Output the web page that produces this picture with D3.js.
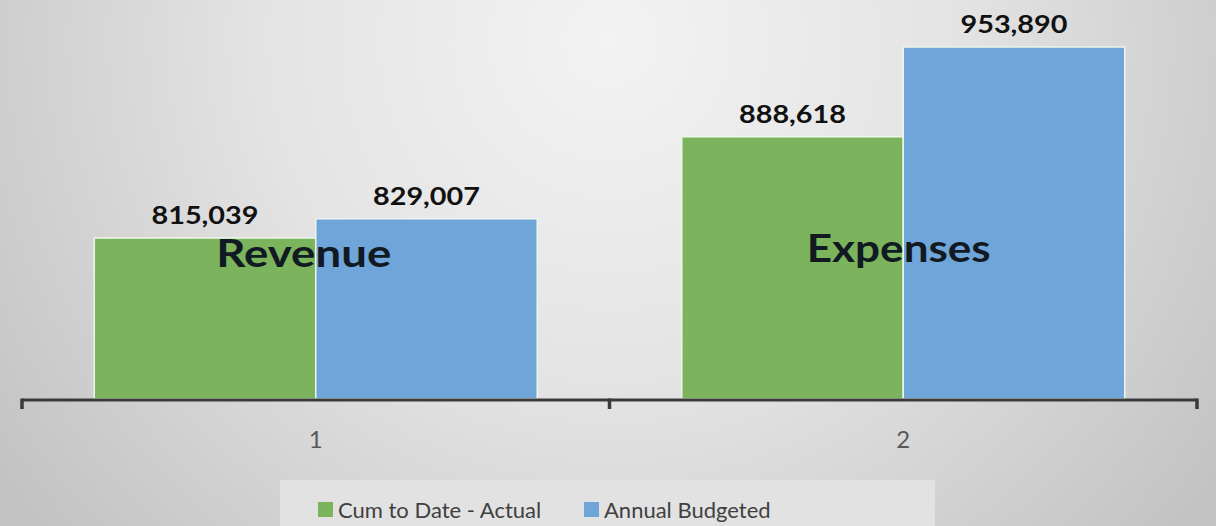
<!DOCTYPE html>
<html>
<head>
<meta charset="utf-8">
<script src="https://cdn.jsdelivr.net/npm/d3@7"></script>
<style>
  body { margin: 0; overflow: hidden; }
  text { font-family: Lato, "Open Sans", sans-serif; }
</style>
</head>
<body>
<script>
var categories = ["1", "2"];
var groupNames = ["Revenue", "Expenses"];
var seriesNames = ["Cum to Date - Actual", "Annual Budgeted"];
var actual = [815039, 888618];
var budgeted = [829007, 953890];
var colors = ["#7bb45c", "#6fa5d8"];

var width = 1216, height = 526;

var svg = d3.select("body").append("svg")
  .attr("width", width)
  .attr("height", height);

// fond en degrade
var defs = svg.append("defs");
var grad = defs.append("radialGradient")
  .attr("id", "fond")
  .attr("gradientUnits", "userSpaceOnUse")
  .attr("cx", 610).attr("cy", 40).attr("r", 760);
grad.append("stop").attr("offset", "0%").attr("stop-color", "#f3f3f3");
grad.append("stop").attr("offset", "45%").attr("stop-color", "#e4e4e4");
grad.append("stop").attr("offset", "100%").attr("stop-color", "#c2c2c2");

svg.append("rect")
  .attr("width", width).attr("height", height)
  .attr("fill", "url(#fond)");

var baseY = 399;

var x = d3.scaleBand()
  .domain(categories)
  .range([22, 1197])
  .paddingInner(0.246)
  .paddingOuter(0.123);

var xSub = d3.scaleBand()
  .domain([0, 1])
  .range([0, x.bandwidth()]);

var y = d3.scaleLinear()
  .domain([698000, 1000000])
  .range([baseY, baseY - 302000 * 0.0013756]);

var rows = categories.map(function(c, i) {
  return { cat: c, name: groupNames[i], values: [actual[i], budgeted[i]] };
});

var groups = svg.selectAll("g.groupe")
  .data(rows)
  .enter().append("g")
  .attr("class", "groupe")
  .attr("transform", function(d) { return "translate(" + x(d.cat) + ",0)"; });

groups.selectAll("rect")
  .data(function(d) { return d.values; })
  .enter().append("rect")
  .attr("x", function(d, i) { return xSub(i); })
  .attr("y", function(d) { return y(d); })
  .attr("width", xSub.bandwidth())
  .attr("height", function(d) { return baseY - y(d); })
  .attr("fill", function(d, i) { return colors[i]; })
  .attr("stroke", "#eef5ea")
  .attr("stroke-width", 1.5);

groups.selectAll("text.valeur")
  .data(function(d) { return d.values; })
  .enter().append("text")
  .attr("class", "valeur")
  .attr("x", function(d, i) { return xSub(i) + xSub.bandwidth() / 2; })
  .attr("y", function(d) { return y(d) - 14; })
  .attr("text-anchor", "middle")
  .attr("font-size", 25)
  .attr("font-weight", "bold")
  .attr("fill", "#111")
  .attr("textLength", 107)
  .attr("lengthAdjust", "spacingAndGlyphs")
  .text(function(d) { return d3.format(",")(d); });

// nom du groupe pose sur les barres (un peu decale comme dans l'original)
var decal = [-12, -4.5], baseNom = [267, 262], largeurNom = [175, 184];
groups.append("text")
  .attr("x", function(d, i) { return x.bandwidth() / 2 + decal[i]; })
  .attr("y", function(d, i) { return baseNom[i]; })
  .attr("text-anchor", "middle")
  .attr("font-size", 38)
  .attr("font-weight", "bold")
  .attr("fill", "#111a22")
  .attr("textLength", function(d, i) { return largeurNom[i]; })
  .attr("lengthAdjust", "spacingAndGlyphs")
  .text(function(d) { return d.name; });

// axe
var axe = d3.axisBottom(x)
  .tickSize(0)
  .tickPadding(31);

var gAxe = svg.append("g")
  .attr("transform", "translate(0,400)")
  .call(axe);
gAxe.select(".domain").remove();
gAxe.selectAll("text")
  .attr("font-size", 24)
  .attr("fill", "#595959")
  .style("font-family", "Lato, sans-serif");

gAxe.append("line")
  .attr("x1", 22).attr("x2", 1197)
  .attr("stroke", "#3a3a3a").attr("stroke-width", 3);

var bornes = [x.range()[0], (x.range()[0] + x.range()[1]) / 2, x.range()[1]];
gAxe.selectAll("line.sep")
  .data(bornes)
  .enter().append("line")
  .attr("class", "sep")
  .attr("x1", function(d) { return d; })
  .attr("x2", function(d) { return d; })
  .attr("y1", -1.5).attr("y2", 9)
  .attr("stroke", "#3a3a3a").attr("stroke-width", 3.5);

// legende
var leg = svg.append("g");
leg.append("rect")
  .attr("x", 280).attr("y", 480)
  .attr("width", 655).attr("height", 46)
  .attr("fill", "#e2e2e2");

var legX = [318, 584];
var items = leg.selectAll("g.item")
  .data(seriesNames)
  .enter().append("g")
  .attr("class", "item")
  .attr("transform", function(d, i) { return "translate(" + legX[i] + ",502)"; });
items.append("rect")
  .attr("width", 15).attr("height", 15)
  .attr("fill", function(d, i) { return colors[i]; });
items.append("text")
  .attr("x", 20).attr("y", 16)
  .attr("font-size", 22)
  .attr("fill", "#404040")
  .text(function(d) { return d; });
</script>
</body>
</html>
